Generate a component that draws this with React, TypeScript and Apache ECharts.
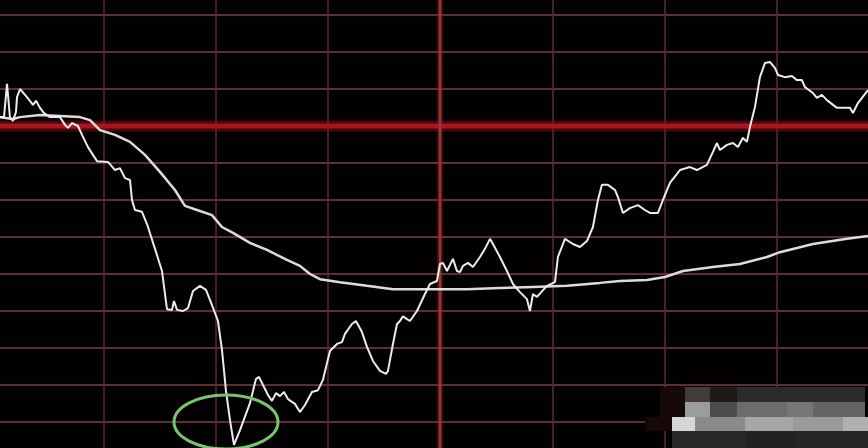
import React, { useEffect, useRef } from "react";
import * as echarts from "echarts";

// minutes since open (0..240), value = % change vs previous close
const priceMinutes = [2.41,3.47,4.28,5.08,5.88,6.68,6.95,7.75,9.62,11.22,12.03,13.09,14.16,15.77,18.44,19.78,20.58,21.65,23.25,24.32,25.92,28.33,31.27,33.14,34.47,35.81,37.15,37.68,38.48,40.35,41.69,43.83,45.7,47.03,48.37,48.9,49.71,51.31,52.65,53.98,55.85,57.46,59.06,60.66,61.73,62.8,63.87,64.94,66.54,69.21,70.82,71.62,72.69,74.02,75.09,76.16,77.23,78.3,79.37,81.23,82.58,83.91,85.78,87.39,88.72,90.59,92.46,93.8,94.6,96.47,97.54,99.14,100.48,102.08,103.95,105.56,106.09,107.43,108.5,109.3,110.1,111.17,111.97,113.84,115.98,117.32,119.19,119.99,120.79,121.86,123.46,124.53,125.33,126.14,127.47,128.81,130.68,132.02,133.36,134.15,136.02,137.89,139.5,141.37,143.24,144.04,144.84,145.91,148.58,150.72,151.52,153.39,155.53,157.4,159.27,160.88,162.21,163.28,164.89,166.76,167.56,168.89,170.76,172.9,174.77,176.11,178.25,179.58,181.45,184.13,186.8,188.67,191.34,192.95,194.02,194.82,196.69,198.29,199.63,200.96,202.03,202.83,204.17,205.5,206.84,208.18,209.51,210.32,212.19,214.06,215.39,216.73,217.53,219.67,220.74,222.07,223.41,226.08,229.56,230.36,231.7,234.37];
const priceValues = [0.24,0.24,1.14,0.22,0.14,0.38,0.78,1.0,0.78,0.57,0.68,0.49,0.35,0.24,0.24,0.03,-0.05,0.08,0.0,-0.24,-0.57,-0.95,-0.97,-1.19,-1.14,-1.41,-1.46,-2.0,-2.27,-2.32,-2.65,-3.32,-3.92,-4.95,-4.97,-4.73,-4.97,-5.0,-4.92,-4.46,-4.32,-4.43,-4.84,-5.27,-6.05,-7.16,-7.95,-8.62,-8.22,-7.49,-6.84,-6.78,-7.0,-7.27,-7.43,-7.22,-7.3,-7.19,-7.38,-7.51,-7.73,-7.54,-7.19,-7.14,-6.86,-6.08,-5.89,-5.84,-5.62,-5.35,-5.27,-5.57,-5.97,-6.35,-6.62,-6.7,-6.62,-5.89,-5.35,-5.27,-5.14,-5.22,-5.27,-5.0,-4.54,-4.27,-4.19,-3.73,-3.7,-3.92,-3.59,-3.92,-3.95,-3.78,-3.7,-3.81,-3.54,-3.32,-3.05,-3.19,-3.54,-3.92,-4.27,-4.49,-4.68,-5.0,-4.54,-4.62,-4.32,-4.22,-3.54,-3.05,-3.19,-3.27,-3.11,-2.73,-2.0,-1.59,-1.59,-1.73,-1.92,-2.35,-2.22,-2.14,-2.27,-2.35,-2.35,-2.0,-1.54,-1.19,-1.11,-1.19,-1.05,-0.7,-0.46,-0.65,-0.51,-0.46,-0.57,-0.32,-0.43,-0.03,0.51,1.32,1.7,1.73,1.57,1.38,1.32,1.35,1.24,1.24,1.05,0.89,0.76,0.84,0.7,0.49,0.49,0.35,0.62,0.97];

const avgMinutes = [2.41,5.88,7.75,13.09,18.44,23.78,26.46,29.13,33.14,37.15,41.15,45.16,49.17,51.84,55.05,59.06,61.73,64.67,69.21,73.76,79.1,82.58,85.25,87.92,93.27,100.48,107.43,118.12,127.2,136.02,144.84,153.93,162.75,168.1,175.31,180.12,184.93,192.95,200.16,207.38,210.85,219.67,228.76,234.37];
const avgValues = [0.24,0.19,0.24,0.3,0.27,0.24,0.16,-0.11,-0.24,-0.43,-0.78,-1.24,-1.73,-2.16,-2.27,-2.41,-2.73,-2.89,-3.16,-3.35,-3.62,-3.78,-4.0,-4.14,-4.22,-4.32,-4.41,-4.41,-4.41,-4.38,-4.35,-4.32,-4.24,-4.19,-4.16,-4.08,-3.92,-3.81,-3.73,-3.54,-3.41,-3.19,-3.05,-2.97];

const sessionStart = 0;
const sessionEnd = 240;
const prevClose = 0;
const midSession = 120;

// mosaic watermark blocks [x, y, w, h, color] (decoration, in page px)
const mosaic: [number, number, number, number, string][] = [
  [660, 387, 25, 44, "#180909"],
  [685, 387, 25, 15, "#433a3a"],
  [710, 387, 27, 15, "#1e1a1a"],
  [737, 387, 128, 15, "#2c2b2b"],
  [685, 402, 25, 15, "#9c9c9c"],
  [710, 402, 27, 15, "#4c4c4c"],
  [737, 402, 50, 15, "#6c6c6c"],
  [787, 402, 26, 15, "#767676"],
  [813, 402, 52, 15, "#646464"],
  [645, 417, 27, 14, "#170707"],
  [672, 417, 23, 14, "#d6d6d6"],
  [695, 417, 50, 14, "#8a8a8a"],
  [745, 417, 48, 14, "#a6a6a6"],
  [793, 417, 50, 14, "#9a9a9a"],
  [843, 417, 25, 14, "#b0b0b0"],
  [672, 431, 73, 17, "#282828"],
  [745, 431, 50, 17, "#222222"],
  [795, 431, 73, 17, "#262626"],
];

const OFFX = -9;
const OFFY = -22;

export default function App() {
  const ref = useRef<HTMLDivElement>(null);
  useEffect(() => {
    if (!ref.current) return;
    const chart = echarts.init(ref.current, undefined, { renderer: "svg" });
    const price = priceMinutes.map((m, i) => [m, priceValues[i]]);
    const avg = avgMinutes.map((m, i) => [m, avgValues[i]]);
    const graphics: any[] = mosaic.map(([x, y, w, h, c]) => ({
      type: "rect",
      shape: { x: x - OFFX, y: y - OFFY, width: w, height: h },
      style: { fill: c },
      z: 50,
    }));
    graphics.push({
      type: "ellipse",
      shape: { cx: 226 - OFFX, cy: 422 - OFFY, rx: 52, ry: 27 },
      style: { fill: "none", stroke: "#78c46c", lineWidth: 3 },
      z: 60,
    });
    chart.setOption({
      animation: false,
      backgroundColor: "#020000",
      grid: { left: 0, right: 0, top: 0, bottom: 0, containLabel: false },
      xAxis: {
        type: "value",
        min: 0,
        max: 240,
        interval: 30,
        axisLine: { show: false },
        axisTick: { show: false },
        axisLabel: { show: false },
        splitLine: { show: true, lineStyle: { color: "#5a2c30", width: 1.5 } },
      },
      yAxis: {
        type: "value",
        min: -9,
        max: 4,
        interval: 1,
        axisLine: { show: false },
        axisTick: { show: false },
        axisLabel: { show: false },
        splitLine: { show: true, lineStyle: { color: "#5e2e33", width: 2 } },
      },
      series: [
        {
          type: "line",
          data: [[sessionStart, prevClose], [sessionEnd, prevClose]],
          symbol: "none",
          silent: true,
          lineStyle: { color: "rgba(150,16,28,0.45)", width: 11 },
          z: 1,
        },
        {
          type: "line",
          data: [[sessionStart, prevClose], [sessionEnd, prevClose]],
          symbol: "none",
          silent: true,
          lineStyle: { color: "#a8141f", width: 5 },
          z: 1,
        },
        {
          type: "line",
          data: [[midSession, -9], [midSession, 4]],
          symbol: "none",
          silent: true,
          lineStyle: { color: "rgba(150,30,36,0.4)", width: 6 },
          z: 1,
        },
        {
          type: "line",
          data: [[midSession, -9], [midSession, 4]],
          symbol: "none",
          silent: true,
          lineStyle: { color: "#a0343a", width: 2.5 },
          z: 1,
        },
        {
          type: "line",
          data: avg,
          showSymbol: false,
          symbol: "none",
          lineStyle: { color: "#dcdcdc", width: 2.5 },
          z: 3,
        },
        {
          type: "line",
          data: price,
          showSymbol: false,
          symbol: "none",
          lineStyle: { color: "#ececec", width: 2 },
          z: 4,
        },
      ],
      graphic: graphics,
    });
    return () => chart.dispose();
  }, []);
  return (
    <div style={{ position: "fixed", left: 0, top: 0, width: 868, height: 448, overflow: "hidden", background: "#000" }}>
      <div ref={ref} style={{ position: "absolute", left: OFFX, top: OFFY, width: 898, height: 481 }} />
    </div>
  );
}
